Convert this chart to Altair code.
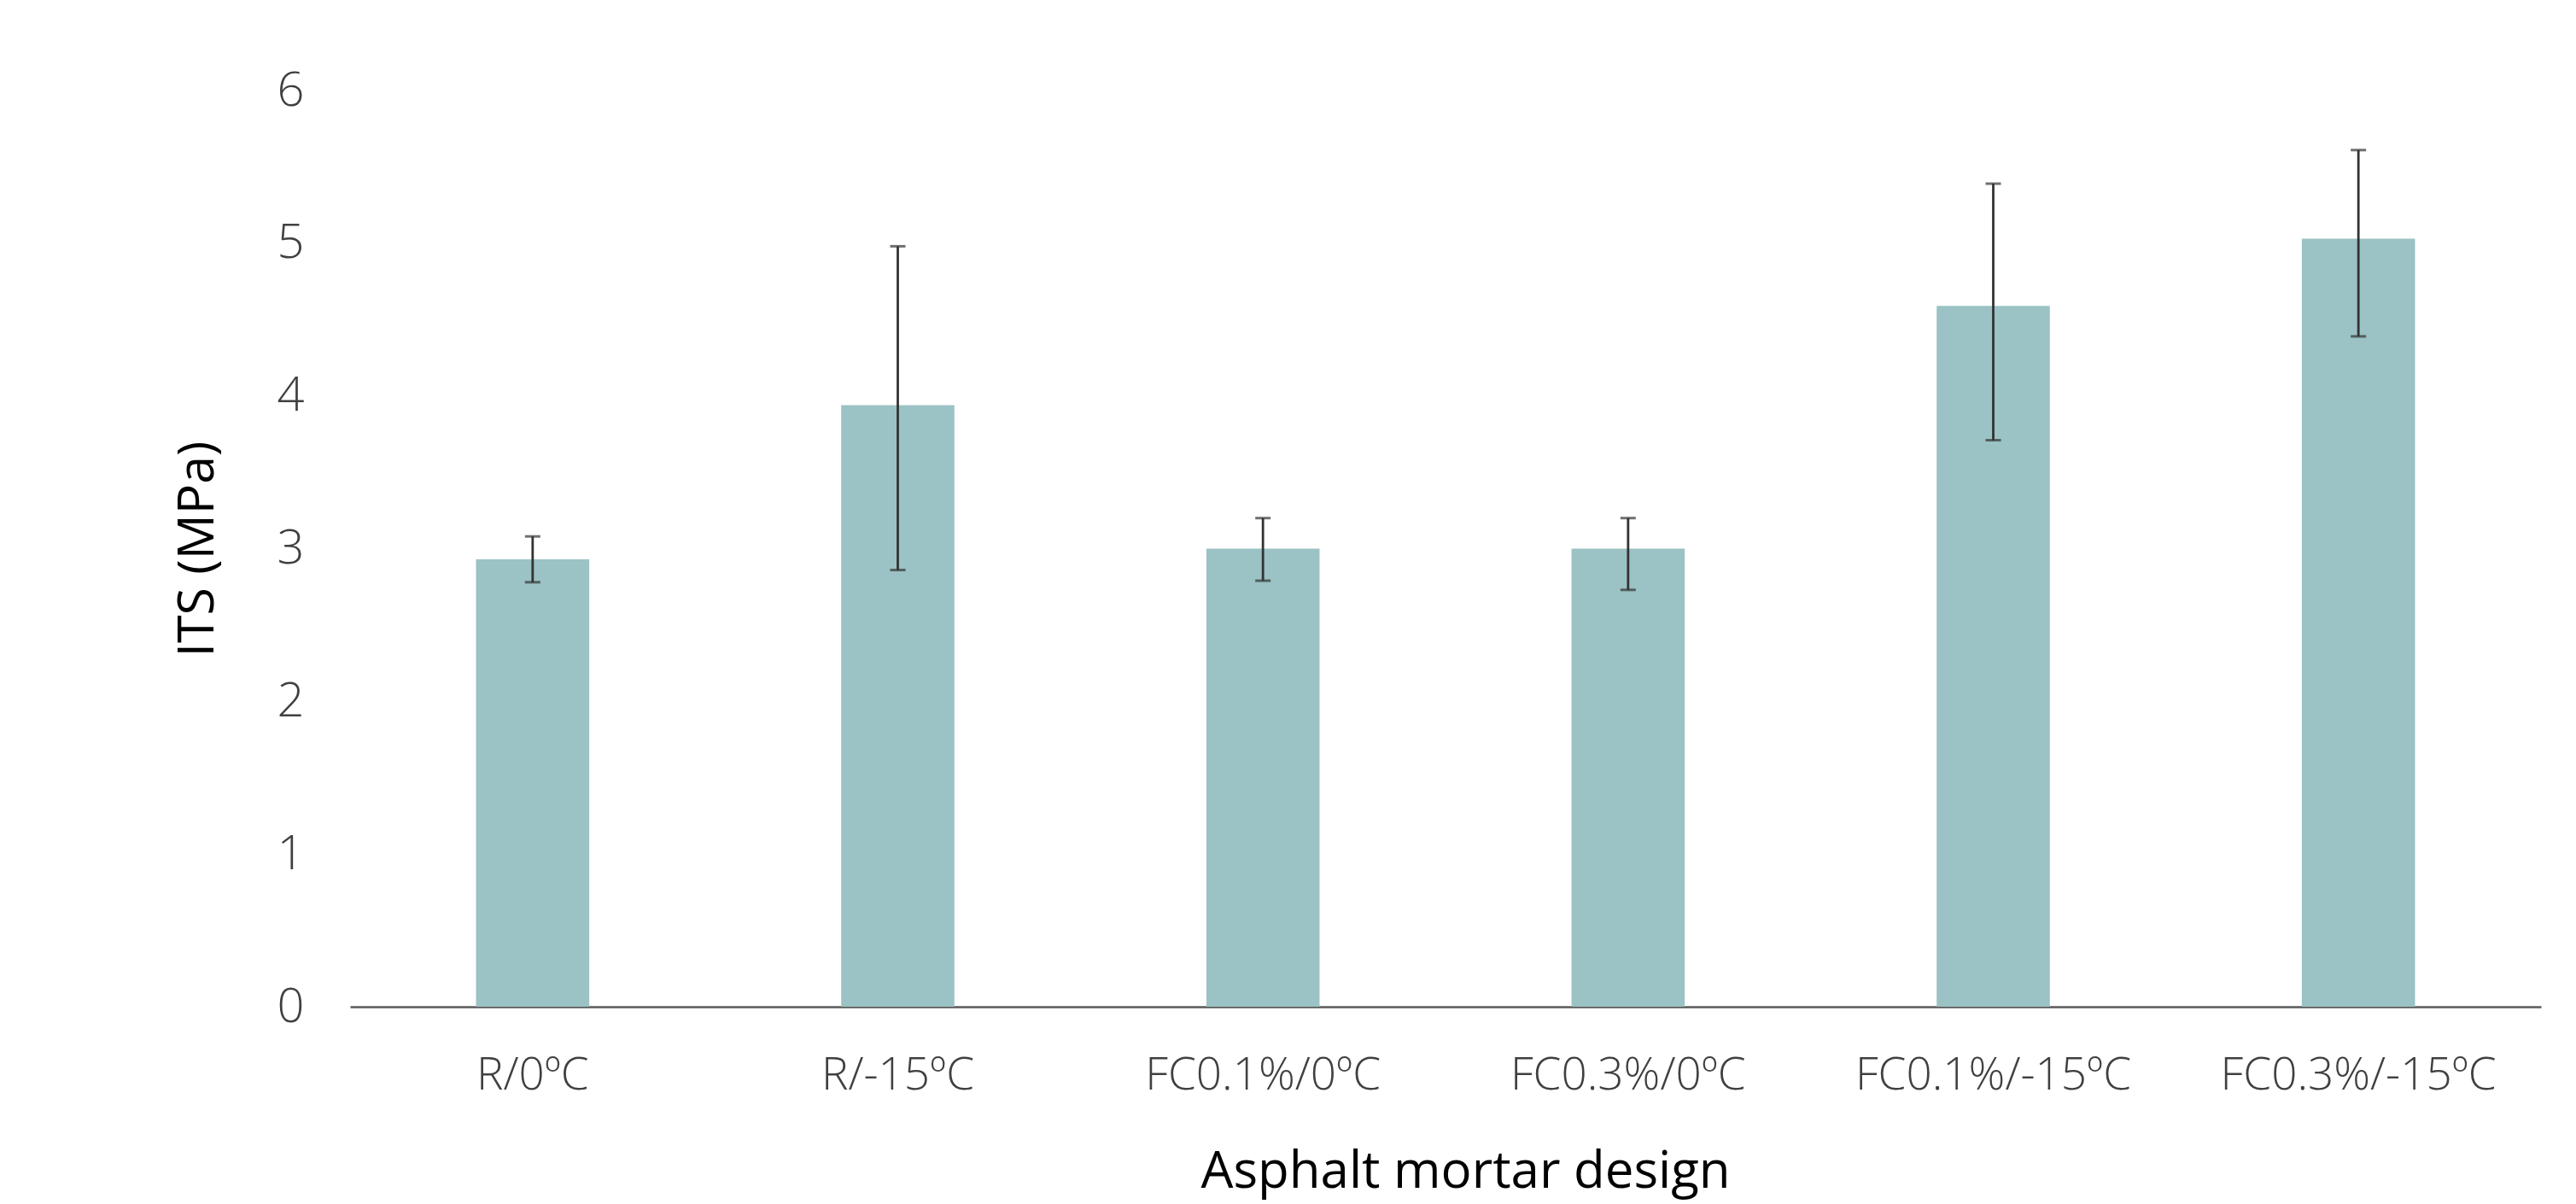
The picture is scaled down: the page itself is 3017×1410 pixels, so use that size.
import altair as alt
import pandas as pd

categories = ["R/0ºC", "R/-15ºC", "FC0.1%/0ºC", "FC0.3%/0ºC", "FC0.1%/-15ºC", "FC0.3%/-15ºC"]
its_mean = [2.93, 3.94, 3.00, 3.00, 4.59, 5.03]
err_low = [2.78, 2.86, 2.79, 2.73, 3.71, 4.39]
err_high = [3.08, 4.98, 3.20, 3.20, 5.39, 5.61]
y_ticks = [0, 1, 2, 3, 4, 5, 6]

df = pd.DataFrame({"design": categories, "its": its_mean, "lo": err_low, "hi": err_high})

FONT = "Open Sans"
W, H = 2566, 1073

xscale = alt.Scale(domain=categories, paddingInner=0.69, paddingOuter=0.345)
yscale = alt.Scale(domain=[0, 6], nice=False)

xaxis = alt.Axis(
    title="Asphalt mortar design", labelAngle=0, ticks=False, tickSize=0,
    labelPadding=80, labelBaseline="middle", labelFont=FONT, labelFontSize=53,
    labelFontWeight=300, labelColor="#404040", labelLimit=2000,
    domainColor="#595959", domainWidth=2.5,
    titleFont=FONT, titleFontSize=60, titleFontWeight="normal", titleColor="#000000",
    titleBaseline="middle", titleY=193, titleX=W / 2 + 23, titleAlign="center", grid=False,
)
yaxis = alt.Axis(
    title="ITS (MPa)", values=y_ticks, format="d", ticks=False, tickSize=0, domain=False,
    grid=False, labelPadding=54, labelFont=FONT, labelFontSize=56, labelFontWeight=300,
    labelColor="#404040", titleFont=FONT, titleFontSize=59, titleFontWeight="normal",
    titleColor="#000000", titleAngle=270, titleBaseline="middle", titleAlign="center",
    titleX=-179, titleY=H / 2,
)

base = alt.Chart(df)
bars = base.mark_bar(color="#9BC2C4").encode(
    x=alt.X("design:N", sort=categories, scale=xscale, axis=xaxis),
    y=alt.Y("its:Q", scale=yscale, axis=yaxis),
)
rules = base.mark_rule(color="#333333", strokeWidth=2.8).encode(
    x=alt.X("design:N", sort=categories, scale=xscale),
    y=alt.Y("lo:Q", scale=yscale),
    y2="hi:Q",
)
cap_lo = base.mark_tick(color="#333333", thickness=3, size=18).encode(
    x=alt.X("design:N", sort=categories, scale=xscale),
    y=alt.Y("lo:Q", scale=yscale),
)
cap_hi = base.mark_tick(color="#333333", thickness=3, size=18).encode(
    x=alt.X("design:N", sort=categories, scale=xscale),
    y=alt.Y("hi:Q", scale=yscale),
)

chart = alt.layer(bars, rules, cap_lo, cap_hi).properties(
    width=W, height=H,
    background="white",
    autosize=alt.AutoSizeParams(type="none"),
    padding={"left": 402, "top": 98, "right": 30, "bottom": 230},
).configure_view(stroke=None, strokeWidth=0)

chart.save("out.html", embed_options={"renderer": "svg", "actions": False})
